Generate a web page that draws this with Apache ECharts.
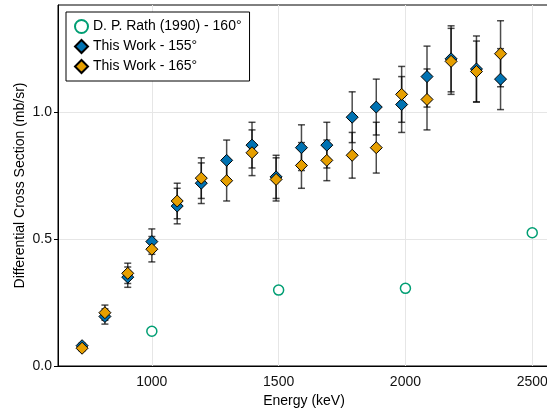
<!DOCTYPE html>
<html>
<head>
<meta charset="utf-8">
<script src="https://cdn.jsdelivr.net/npm/echarts@6/dist/echarts.min.js"></script>
<style>html,body{margin:0;padding:0;background:#fff}#c{width:547px;height:414px}</style>
</head>
<body>
<div id="c"></div>
<script>
const energies = [725, 815, 905, 1000, 1100, 1195, 1295, 1395, 1490, 1590, 1690, 1790, 1885, 1985, 2085, 2180, 2280, 2375];
const work155 = [0.08, 0.195, 0.35, 0.49, 0.63, 0.72, 0.81, 0.87, 0.745, 0.86, 0.87, 0.98, 1.02, 1.03, 1.14, 1.21, 1.17, 1.13];
const err155  = [0.01, 0.03, 0.04, 0.05, 0.07, 0.08, 0.08, 0.09, 0.085, 0.09, 0.09, 0.10, 0.11, 0.11, 0.12, 0.13, 0.13, 0.12];
const work165 = [0.07, 0.21, 0.365, 0.46, 0.65, 0.74, 0.73, 0.84, 0.735, 0.79, 0.81, 0.83, 0.86, 1.07, 1.05, 1.20, 1.16, 1.23];
const err165  = [0.01, 0.03, 0.04, 0.05, 0.07, 0.08, 0.08, 0.09, 0.085, 0.09, 0.08, 0.09, 0.10, 0.11, 0.12, 0.13, 0.12, 0.13];
const rathEnergies = [1000, 1500, 2000, 2500];
const rathValues = [0.137, 0.299, 0.306, 0.525];
const xTicks = [1000, 1500, 2000, 2500];
const yTicks = [0, 0.5, 1.0];

const FONT = '"Liberation Sans", Arial, Helvetica, sans-serif';
const BLUE = '#0072B2', ORANGE = '#E69F00', GREEN = '#009E73';

function errData(vals, errs) {
  return energies.map((e, i) => [e, vals[i] - errs[i], vals[i] + errs[i]]);
}
function errRender(params, api) {
  const x = api.value(0);
  const lo = api.coord([x, api.value(1)]);
  const hi = api.coord([x, api.value(2)]);
  const hw = 3.5;
  const style = { stroke: 'rgba(0,0,0,0.7)', lineWidth: 1.5, fill: null };
  return {
    type: 'group',
    children: [
      { type: 'line', shape: { x1: lo[0], y1: lo[1], x2: hi[0], y2: hi[1] }, style },
      { type: 'line', shape: { x1: lo[0] - hw, y1: lo[1], x2: lo[0] + hw, y2: lo[1] }, style },
      { type: 'line', shape: { x1: hi[0] - hw, y1: hi[1], x2: hi[0] + hw, y2: hi[1] }, style }
    ]
  };
}

const chart = echarts.init(document.getElementById('c'), null, { renderer: 'canvas' });
chart.setOption({
  animation: false,
  backgroundColor: '#fff',
  textStyle: { fontFamily: FONT },
  grid: { left: 58, right: -3, top: 5, bottom: 48, show: true, borderColor: '#000', borderWidth: 1,
          backgroundColor: 'transparent', containLabel: false, outerBoundsMode: 'none' },
  legend: {
    data: ['D. P. Rath (1990) - 160°', 'This Work - 155°', 'This Work - 165°'],
    orient: 'vertical', left: 66, top: 12,
    borderColor: '#000', borderWidth: 1, padding: [7, 8, 7, 8],
    itemWidth: 13, itemHeight: 13, itemGap: 5,
    textStyle: { fontSize: 14, color: '#000', fontFamily: FONT },
    backgroundColor: '#fff'
  },
  xAxis: {
    type: 'value', min: 630, max: 2570,
    name: 'Energy (keV)', nameLocation: 'middle', nameGap: 28, nameMoveOverlap: false,
    nameTextStyle: { fontSize: 14, color: '#000', fontFamily: FONT },
    axisLine: { show: true, lineStyle: { color: '#000', width: 1 } },
    axisTick: { show: false, customValues: xTicks },
    axisLabel: { customValues: xTicks, fontSize: 14, color: '#111', margin: 9, fontFamily: FONT,
                 formatter: v => String(v) },
    splitLine: { show: true, lineStyle: { color: '#e6e6e6', width: 1 } }
  },
  yAxis: {
    type: 'value', min: 0, max: 1.422,
    name: 'Differential Cross Section (mb/sr)', nameLocation: 'middle', nameGap: 31, nameMoveOverlap: false,
    nameTextStyle: { fontSize: 14, color: '#000', fontFamily: FONT },
    axisLine: { show: true, lineStyle: { color: '#000', width: 1 } },
    axisTick: { show: true, customValues: yTicks, length: 4, lineStyle: { color: '#000' } },
    axisLabel: { customValues: yTicks, fontSize: 14, color: '#111', margin: 6, fontFamily: FONT,
                 formatter: v => v.toFixed(1) },
    splitLine: { show: true, lineStyle: { color: '#e6e6e6', width: 1 } }
  },
  series: [
    { type: 'custom', name: 'err155', renderItem: errRender, data: errData(work155, err155), encode: { x: 0, y: [1, 2] }, silent: true },
    { type: 'scatter', name: 'This Work - 155°', data: energies.map((e, i) => [e, work155[i]]),
      symbol: 'diamond', symbolSize: 12, itemStyle: { color: BLUE, borderColor: '#000', borderWidth: 1, opacity: 1 } },
    { type: 'custom', name: 'err165', renderItem: errRender, data: errData(work165, err165), encode: { x: 0, y: [1, 2] }, silent: true },
    { type: 'scatter', name: 'This Work - 165°', data: energies.map((e, i) => [e, work165[i]]),
      symbol: 'diamond', symbolSize: 12, itemStyle: { color: ORANGE, borderColor: '#000', borderWidth: 1, opacity: 1 } },
    { type: 'scatter', name: 'D. P. Rath (1990) - 160°', data: rathEnergies.map((e, i) => [e, rathValues[i]]),
      symbol: 'circle', symbolSize: 10, itemStyle: { color: '#fff', borderColor: GREEN, borderWidth: 1.5, opacity: 1 } }
  ]
});
</script>
</body>
</html>
